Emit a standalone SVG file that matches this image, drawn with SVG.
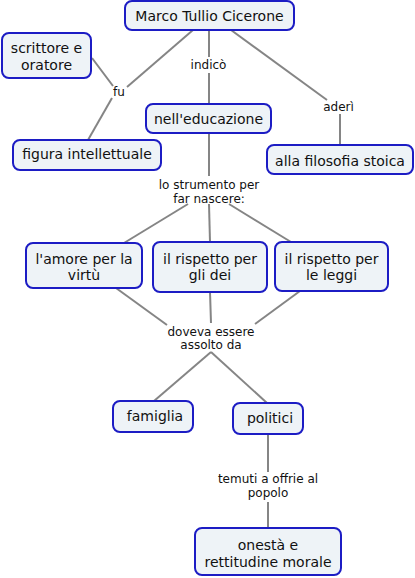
<svg xmlns="http://www.w3.org/2000/svg" width="415" height="578" viewBox="0 0 415 578">
<style>
.n rect{fill:#eef3f7;stroke:#1c1cc4;stroke-width:2}
.n text{font-family:"DejaVu Sans",Verdana,sans-serif;font-size:14px;fill:#111;text-anchor:middle}
.l text{font-family:"DejaVu Sans",Verdana,sans-serif;font-size:12px;fill:#111;text-anchor:middle}
#connectors line{stroke:#858585;stroke-width:2}
</style>
<rect width="415" height="578" fill="#fff"/>
<g id="connectors">
<line x1="193" y1="30" x2="127" y2="87"/>
<line x1="112" y1="98" x2="88" y2="140"/>
<line x1="92" y1="58" x2="113" y2="86"/>
<line x1="209" y1="30" x2="209" y2="57"/>
<line x1="209" y1="73" x2="209" y2="104"/>
<line x1="231" y1="30" x2="327" y2="100"/>
<line x1="340" y1="114" x2="340" y2="145"/>
<line x1="209" y1="133" x2="209" y2="176"/>
<line x1="209" y1="204" x2="210" y2="242"/>
<line x1="188" y1="204" x2="124" y2="243"/>
<line x1="229" y1="204" x2="291" y2="242"/>
<line x1="116" y1="288" x2="167" y2="325"/>
<line x1="210" y1="292" x2="211" y2="323"/>
<line x1="300" y1="291" x2="255" y2="324"/>
<line x1="211" y1="352" x2="154" y2="401"/>
<line x1="211" y1="352" x2="267" y2="403"/>
<line x1="268" y1="434" x2="268" y2="472"/>
<line x1="268" y1="502" x2="268" y2="528"/>
</g>
<g class="l" id="lbl-fu"><text x="119" y="96">fu</text></g>
<g class="l" id="lbl-indico"><text x="208.5" y="69">indicò</text></g>
<g class="l" id="lbl-aderi"><text x="338.5" y="111">aderì</text></g>
<g class="l" id="lbl-strumento"><text x="209" y="188.5">lo strumento per</text><text x="209" y="202.5">far nascere:</text></g>
<g class="l" id="lbl-doveva"><text x="211" y="335.5">doveva essere</text><text x="211" y="349">assolto da</text></g>
<g class="l" id="lbl-temuti"><text x="268" y="482.5">temuti a offrie al</text><text x="268" y="497">popolo</text></g>
<g class="n" id="n-cicerone"><rect x="125" y="1" width="169" height="29" rx="7"/><text x="209.5" y="21">Marco Tullio Cicerone</text></g>
<g class="n" id="n-scrittore"><rect x="2" y="33" width="89" height="45" rx="7"/><text x="46.5" y="53">scrittore e</text><text x="46.5" y="69.5">oratore</text></g>
<g class="n" id="n-educazione"><rect x="146" y="104" width="125" height="29" rx="7"/><text x="208.5" y="123.5">nell'educazione</text></g>
<g class="n" id="n-figura"><rect x="13" y="140" width="148" height="30" rx="7"/><text x="87" y="158.5">figura intellettuale</text></g>
<g class="n" id="n-stoica"><rect x="267" y="145" width="146" height="29" rx="7"/><text x="340" y="165.5">alla filosofia stoica</text></g>
<g class="n" id="n-amore"><rect x="26" y="243" width="116" height="45" rx="7"/><text x="84" y="263.5">l'amore per la</text><text x="84" y="279.5">virtù</text></g>
<g class="n" id="n-dei"><rect x="153" y="242" width="114" height="50" rx="7"/><text x="210" y="263.5">il rispetto per</text><text x="210" y="279.5">gli dei</text></g>
<g class="n" id="n-leggi"><rect x="275" y="242" width="113" height="49" rx="7"/><text x="331.5" y="263.5">il rispetto per</text><text x="331.5" y="279.5">le leggi</text></g>
<g class="n" id="n-famiglia"><rect x="113" y="401" width="80" height="31" rx="7"/><text x="155" y="420.5">famiglia</text></g>
<g class="n" id="n-politici"><rect x="233" y="403" width="70" height="31" rx="7"/><text x="270" y="423">politici</text></g>
<g class="n" id="n-onesta"><rect x="195" y="528" width="146" height="47" rx="7"/><text x="268" y="550">onestà e</text><text x="268" y="566.5">rettitudine morale</text></g>
</svg>
